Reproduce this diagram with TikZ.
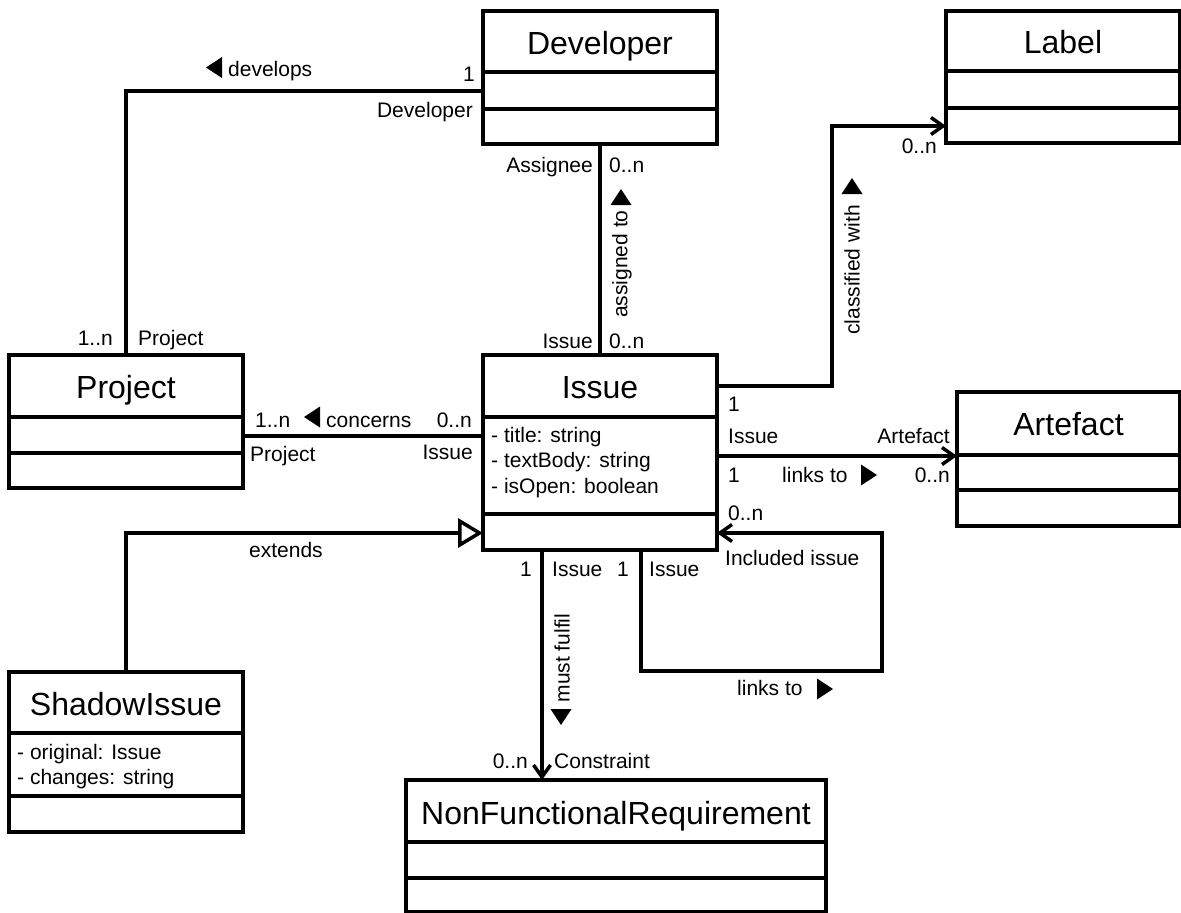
\documentclass[tikz,border=0pt]{standalone}
\usepackage{fontspec}
\setmainfont{Liberation Sans}
\usetikzlibrary{arrows.meta}
\begin{document}
\begin{tikzpicture}[x=1pt,y=-1pt,
  cls/.style={draw, line width=3.5pt, rectangle, inner sep=0pt, outer sep=0pt, fill=white},
  title/.style={font=\fontsize{32}{36}\selectfont, anchor=base, inner sep=0pt},
  attr/.style={font=\fontsize{21}{25}\selectfont, anchor=base west, inner sep=0pt},
  lbl/.style={font=\fontsize{21}{25}\selectfont, inner sep=0pt},
  lw/.style={lbl, anchor=base west},
  le/.style={lbl, anchor=base east},
  sep/.style={line width=3.5pt},
  conn/.style={line width=3.5pt},
  nav/.style={conn, -{Straight Barb[length=12pt,width=17pt]}},
  gen/.style={conn, -{Triangle[open,length=25pt,width=29pt,fill=white]}},
  pics/pl/.style={code={\fill (8,-10.5) -- (8,10.5) -- (-8,0) -- cycle;}},
  pics/pr/.style={code={\fill (-8,-10.5) -- (-8,10.5) -- (8,0) -- cycle;}},
  pics/pu/.style={code={\fill (-10.5,8) -- (10.5,8) -- (0,-8) -- cycle;}},
  pics/pd/.style={code={\fill (-10.5,-8) -- (10.5,-8) -- (0,8) -- cycle;}},
]
\useasboundingbox (0,0) rectangle (1181,913);
\fill[white] (0,0) rectangle (1181,913);

% ---------- classes ----------
\node[cls, minimum width=234pt, minimum height=133pt] (dev) at (600,77.5) {};
\node[title] (dev-t) at (600,54) {Developer};
\draw[sep] (dev.west |- 0,72) -- (dev.east |- 0,72);
\draw[sep] (dev.west |- 0,109) -- (dev.east |- 0,109);

\node[cls, minimum width=234pt, minimum height=132pt] (lab) at (1063,77) {};
\node[title] (lab-t) at (1063,53) {Label};
\draw[sep] (lab.west |- 0,71) -- (lab.east |- 0,71);
\draw[sep] (lab.west |- 0,108) -- (lab.east |- 0,108);

\node[cls, minimum width=234pt, minimum height=133pt] (proj) at (126,421.5) {};
\node[title] (proj-t) at (126,398) {Project};
\draw[sep] (proj.west |- 0,417) -- (proj.east |- 0,417);
\draw[sep] (proj.west |- 0,453) -- (proj.east |- 0,453);

\node[cls, minimum width=234pt, minimum height=195pt] (iss) at (600,452.5) {};
\node[title] (iss-t) at (600,398) {Issue};
\draw[sep] (iss.west |- 0,417) -- (iss.east |- 0,417);
\draw[sep] (iss.west |- 0,514) -- (iss.east |- 0,514);
\node[attr] (iss-a1) at (491,442) {- title: string};
\node[attr] (iss-a2) at (491,467.5) {- textBody: string};
\node[attr] (iss-a3) at (491,493) {- isOpen: boolean};

\node[cls, minimum width=223pt, minimum height=134pt] (art) at (1068.5,459) {};
\node[title] (art-t) at (1068.5,435) {Artefact};
\draw[sep] (art.west |- 0,455) -- (art.east |- 0,455);
\draw[sep] (art.west |- 0,490) -- (art.east |- 0,490);

\node[cls, minimum width=234pt, minimum height=160pt] (shadow) at (126,752) {};
\node[title] (shadow-t) at (126,715) {ShadowIssue};
\draw[sep] (shadow.west |- 0,733) -- (shadow.east |- 0,733);
\draw[sep] (shadow.west |- 0,796) -- (shadow.east |- 0,796);
\node[attr] (shadow-a1) at (17,759) {- original: Issue};
\node[attr] (shadow-a2) at (17,784) {- changes: string};

\node[cls, minimum width=420pt, minimum height=132pt] (nfr) at (616,846) {};
\node[title] (nfr-t) at (616,824) {NonFunctionalRequirement};
\draw[sep] (nfr.west |- 0,842) -- (nfr.east |- 0,842);
\draw[sep] (nfr.west |- 0,878) -- (nfr.east |- 0,878);

% ---------- associations ----------
\draw[conn] (dev.west |- 0,91) -| (proj.north);
\draw[conn] (dev.south) -- (iss.north);
\coordinate (clsbend) at (832,126);
\draw[nav] (iss.east |- 0,386) -| (clsbend) -- (lab.west |- clsbend);
\draw[nav] (iss.east |- 0,456) -- (art.west |- 0,456);
\coordinate (selfbend) at (882,671);
\draw[nav] (iss.south -| 641,0) |- (selfbend) |- (iss.east |- 0,533);
\draw[nav] (iss.south -| 542,0) -- (nfr.north -| 542,0);
\draw[conn] (proj.east |- 0,436) -- (iss.west |- 0,436);
\draw[gen] (shadow.north) |- (iss.west |- 0,533);

% ---------- develops ----------
\pic at (214,67.5) {pl};
\node[lw] (l-dev) at (228,76) {develops};
\node[le] (m-dev1) at (475,81) {1};
\node[le] (r-dev1) at (473,117) {Developer};
\node[le] (m-proj1) at (113,345) {1..n};
\node[lw] (r-proj1) at (138,345) {Project};

% ---------- assigned to ----------
\node[le] (r-asg) at (593,172) {Assignee};
\node[lw] (m-asg) at (609,172) {0..n};
\node[le] (r-iss1) at (593,348) {Issue};
\node[lw] (m-iss1) at (609,348) {0..n};
\node[lbl, rotate=90] (l-asg) at (622,264) {assigned to};
\pic at (621,197) {pu};

% ---------- classified with ----------
\node[lbl, rotate=90] (l-cls) at (852,270) {classified with};
\pic at (852,186) {pu};
\node[le] (m-lab) at (937,153) {0..n};
\node[lw] (m-iss2) at (728,411) {1};

% ---------- links to (Artefact) ----------
\node[lw] (r-iss2) at (728,443) {Issue};
\node[le] (r-art) at (950,443) {Artefact};
\node[lw] (m-iss3) at (728,482) {1};
\node[lw] (l-art) at (782,482) {links to};
\pic at (869,475) {pr};
\node[le] (m-art) at (950,482) {0..n};

% ---------- links to (self) ----------
\node[lw] (m-self1) at (728,520) {0..n};
\node[lw] (r-self1) at (725,565) {Included issue};
\node[le] (m-self2) at (629,576) {1};
\node[lw] (r-self2) at (649,576) {Issue};
\node[lw] (l-self) at (737,695) {links to};
\pic at (825,689) {pr};

% ---------- must fulfil ----------
\node[le] (m-nfr1) at (532,576) {1};
\node[lw] (r-nfr1) at (552,576) {Issue};
\node[lbl, rotate=90] (l-nfr) at (562,658) {must fulfil};
\pic at (561,717) {pd};
\node[le] (m-nfr2) at (528,768) {0..n};
\node[lw] (r-nfr2) at (554,768) {Constraint};

% ---------- concerns ----------
\node[lw] (m-proj2) at (255,427) {1..n};
\pic at (312,417) {pl};
\node[lw] (l-con) at (326,427) {concerns};
\node[le] (m-iss4) at (472,427) {0..n};
\node[lw] (r-proj2) at (250,461) {Project};
\node[le] (r-iss4) at (473,459) {Issue};

% ---------- extends ----------
\node[lw] (l-ext) at (249,557) {extends};
\end{tikzpicture}
\end{document}
